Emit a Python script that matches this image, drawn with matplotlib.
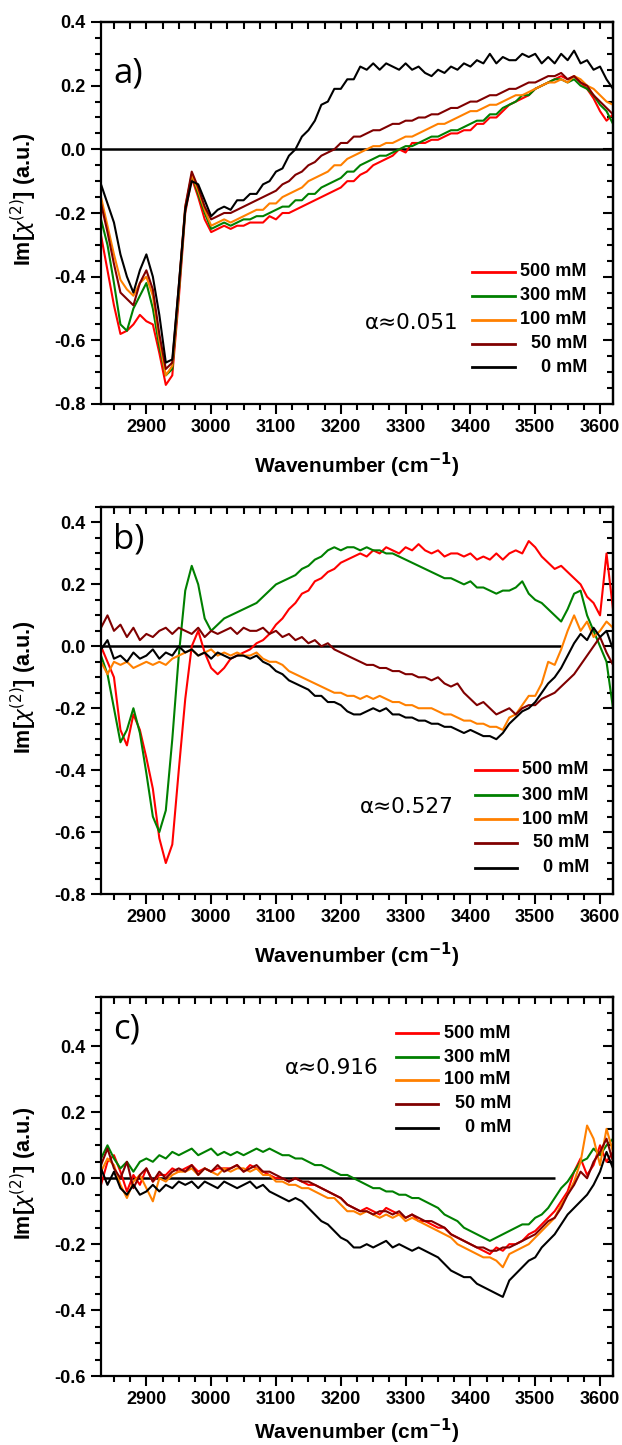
import numpy as np
import matplotlib
matplotlib.use("Agg")
import matplotlib.pyplot as plt
from matplotlib.lines import Line2D
from matplotlib.ticker import MultipleLocator, FormatStrFormatter, NullFormatter

plt.rcParams["axes.unicode_minus"] = False

# ---------------- data ----------------
wavenumber = np.arange(2830, 3621, 10)

labels = ["500 mM", "300 mM", "100 mM", "50 mM", "0 mM"]
colors = ["#ff0000", "#008000", "#ff8000", "#800000", "#000000"]

# panel a (alpha ~ 0.051)
a_500 = [-0.27, -0.38, -0.49, -0.58, -0.57, -0.55, -0.52, -0.54, -0.55, -0.64,
         -0.74, -0.71, -0.47, -0.20, -0.09, -0.15, -0.22, -0.26, -0.25, -0.24,
         -0.25, -0.24, -0.24, -0.23, -0.23, -0.23, -0.21, -0.22, -0.20, -0.20,
         -0.19, -0.18, -0.17, -0.16, -0.15, -0.14, -0.13, -0.12, -0.10, -0.10,
         -0.08, -0.07, -0.05, -0.04, -0.03, -0.02, 0.00, -0.01, 0.02, 0.02,
         0.02, 0.03, 0.03, 0.04, 0.05, 0.05, 0.06, 0.06, 0.08, 0.08,
         0.10, 0.10, 0.12, 0.14, 0.15, 0.16, 0.17, 0.19, 0.20, 0.21,
         0.22, 0.23, 0.22, 0.23, 0.21, 0.19, 0.16, 0.12, 0.09, 0.11]
a_300 = [-0.22, -0.30, -0.42, -0.55, -0.57, -0.50, -0.46, -0.42, -0.50, -0.62,
         -0.71, -0.69, -0.45, -0.19, -0.08, -0.14, -0.20, -0.25, -0.24, -0.23,
         -0.24, -0.23, -0.22, -0.22, -0.21, -0.21, -0.20, -0.19, -0.18, -0.18,
         -0.16, -0.16, -0.14, -0.14, -0.12, -0.11, -0.10, -0.09, -0.07, -0.07,
         -0.05, -0.04, -0.03, -0.02, -0.02, -0.01, 0.00, 0.01, 0.01, 0.02,
         0.03, 0.04, 0.04, 0.05, 0.06, 0.06, 0.07, 0.08, 0.09, 0.09,
         0.11, 0.11, 0.13, 0.14, 0.15, 0.17, 0.17, 0.19, 0.20, 0.21,
         0.22, 0.22, 0.21, 0.22, 0.20, 0.19, 0.17, 0.14, 0.12, 0.08]
a_100 = [-0.15, -0.24, -0.33, -0.41, -0.44, -0.46, -0.42, -0.40, -0.46, -0.60,
         -0.71, -0.68, -0.44, -0.18, -0.08, -0.13, -0.19, -0.24, -0.23, -0.22,
         -0.23, -0.22, -0.21, -0.20, -0.19, -0.19, -0.17, -0.17, -0.15, -0.14,
         -0.13, -0.12, -0.10, -0.09, -0.08, -0.07, -0.05, -0.05, -0.03, -0.02,
         -0.01, 0.00, 0.01, 0.01, 0.02, 0.02, 0.03, 0.04, 0.04, 0.05,
         0.06, 0.07, 0.08, 0.08, 0.09, 0.10, 0.11, 0.12, 0.12, 0.13,
         0.14, 0.14, 0.15, 0.16, 0.17, 0.17, 0.18, 0.19, 0.20, 0.21,
         0.21, 0.22, 0.21, 0.23, 0.22, 0.20, 0.19, 0.17, 0.15, 0.14]
a_50 = [-0.17, -0.26, -0.36, -0.45, -0.47, -0.49, -0.42, -0.38, -0.44, -0.58,
        -0.69, -0.67, -0.43, -0.18, -0.07, -0.12, -0.18, -0.22, -0.21, -0.20,
        -0.20, -0.19, -0.18, -0.17, -0.16, -0.15, -0.14, -0.13, -0.11, -0.10,
        -0.08, -0.07, -0.05, -0.04, -0.02, -0.01, 0.00, 0.02, 0.02, 0.04,
        0.04, 0.05, 0.06, 0.06, 0.07, 0.08, 0.08, 0.09, 0.09, 0.10,
        0.10, 0.11, 0.11, 0.12, 0.13, 0.13, 0.14, 0.15, 0.15, 0.16,
        0.17, 0.17, 0.18, 0.19, 0.19, 0.20, 0.21, 0.21, 0.22, 0.23,
        0.23, 0.24, 0.22, 0.23, 0.21, 0.20, 0.17, 0.15, 0.13, 0.11]
a_0 = [-0.11, -0.17, -0.23, -0.33, -0.40, -0.45, -0.38, -0.33, -0.40, -0.52,
       -0.67, -0.66, -0.43, -0.19, -0.10, -0.11, -0.16, -0.21, -0.19, -0.18,
       -0.19, -0.16, -0.16, -0.14, -0.14, -0.11, -0.10, -0.07, -0.06, -0.02,
       0.00, 0.04, 0.06, 0.09, 0.14, 0.15, 0.19, 0.19, 0.22, 0.22,
       0.26, 0.25, 0.27, 0.25, 0.27, 0.26, 0.25, 0.27, 0.25, 0.26,
       0.24, 0.23, 0.25, 0.24, 0.26, 0.25, 0.27, 0.26, 0.28, 0.27,
       0.30, 0.27, 0.29, 0.28, 0.28, 0.30, 0.29, 0.30, 0.27, 0.29,
       0.27, 0.30, 0.28, 0.31, 0.27, 0.28, 0.25, 0.26, 0.22, 0.19]

# panel b (alpha ~ 0.527)
b_500 = [0.00, -0.05, -0.10, -0.27, -0.32, -0.22, -0.27, -0.36, -0.46, -0.62,
         -0.70, -0.64, -0.40, -0.17, 0.00, 0.05, -0.02, -0.07, -0.09, -0.07,
         -0.04, -0.03, -0.02, -0.01, 0.01, 0.02, 0.04, 0.07, 0.09, 0.12,
         0.14, 0.17, 0.18, 0.21, 0.22, 0.24, 0.25, 0.27, 0.28, 0.29,
         0.30, 0.29, 0.31, 0.30, 0.32, 0.31, 0.30, 0.32, 0.31, 0.33,
         0.31, 0.30, 0.31, 0.29, 0.30, 0.30, 0.29, 0.30, 0.28, 0.29,
         0.28, 0.30, 0.28, 0.30, 0.31, 0.30, 0.34, 0.32, 0.29, 0.27,
         0.25, 0.26, 0.24, 0.22, 0.20, 0.16, 0.14, 0.10, 0.30, 0.12]
b_300 = [-0.03, -0.09, -0.20, -0.31, -0.27, -0.20, -0.28, -0.41, -0.55, -0.60,
         -0.53, -0.30, -0.03, 0.18, 0.26, 0.20, 0.09, 0.05, 0.07, 0.09,
         0.10, 0.11, 0.12, 0.13, 0.14, 0.16, 0.18, 0.20, 0.21, 0.22,
         0.23, 0.25, 0.26, 0.28, 0.29, 0.31, 0.32, 0.31, 0.32, 0.32,
         0.31, 0.32, 0.31, 0.31, 0.30, 0.30, 0.29, 0.28, 0.27, 0.26,
         0.25, 0.24, 0.23, 0.22, 0.22, 0.21, 0.20, 0.21, 0.19, 0.19,
         0.18, 0.17, 0.18, 0.18, 0.19, 0.21, 0.17, 0.15, 0.14, 0.12,
         0.10, 0.08, 0.12, 0.17, 0.18, 0.10, 0.05, 0.00, -0.05, -0.20]
b_100 = [-0.05, -0.09, -0.05, -0.06, -0.05, -0.07, -0.06, -0.05, -0.06, -0.05,
         -0.06, -0.04, -0.03, -0.02, -0.01, -0.03, -0.02, -0.01, -0.03, -0.02,
         -0.03, -0.02, -0.03, -0.03, -0.02, -0.04, -0.05, -0.05, -0.06, -0.08,
         -0.09, -0.10, -0.11, -0.12, -0.13, -0.14, -0.15, -0.15, -0.16, -0.16,
         -0.17, -0.16, -0.17, -0.16, -0.17, -0.18, -0.18, -0.19, -0.19, -0.20,
         -0.20, -0.20, -0.21, -0.22, -0.22, -0.23, -0.24, -0.24, -0.25, -0.25,
         -0.26, -0.26, -0.27, -0.23, -0.22, -0.19, -0.16, -0.16, -0.12, -0.05,
         -0.06, -0.01, 0.05, 0.10, 0.05, 0.08, 0.03, 0.05, 0.08, 0.06]
b_50 = [0.06, 0.10, 0.05, 0.07, 0.03, 0.06, 0.02, 0.04, 0.03, 0.05,
        0.06, 0.04, 0.06, 0.05, 0.04, 0.06, 0.03, 0.05, 0.04, 0.05,
        0.06, 0.04, 0.06, 0.05, 0.05, 0.06, 0.04, 0.05, 0.03, 0.04,
        0.02, 0.03, 0.01, 0.02, 0.00, 0.01, -0.01, -0.02, -0.03, -0.04,
        -0.05, -0.06, -0.06, -0.07, -0.07, -0.08, -0.08, -0.09, -0.09, -0.10,
        -0.10, -0.11, -0.10, -0.12, -0.13, -0.12, -0.15, -0.17, -0.19, -0.18,
        -0.20, -0.22, -0.21, -0.20, -0.22, -0.20, -0.19, -0.19, -0.17, -0.16,
        -0.15, -0.13, -0.11, -0.09, -0.06, -0.03, 0.00, 0.03, -0.02, -0.06]
b_0 = [-0.01, 0.02, -0.04, -0.03, -0.05, -0.02, -0.04, -0.03, -0.01, -0.04,
       -0.02, -0.03, 0.00, -0.02, -0.01, -0.03, -0.02, -0.04, -0.02, -0.03,
       -0.04, -0.03, -0.03, -0.04, -0.03, -0.05, -0.06, -0.08, -0.09, -0.11,
       -0.12, -0.13, -0.14, -0.16, -0.16, -0.18, -0.18, -0.19, -0.21, -0.22,
       -0.22, -0.21, -0.20, -0.21, -0.20, -0.22, -0.22, -0.23, -0.23, -0.24,
       -0.24, -0.25, -0.25, -0.26, -0.26, -0.27, -0.28, -0.27, -0.28, -0.29,
       -0.29, -0.30, -0.28, -0.25, -0.23, -0.21, -0.20, -0.18, -0.15, -0.12,
       -0.10, -0.07, -0.03, 0.01, 0.04, 0.02, 0.06, 0.03, 0.05, -0.01]

# panel c (alpha ~ 0.916)
c_500 = [-0.02, 0.05, 0.07, 0.02, -0.04, 0.01, -0.02, 0.03, -0.01, 0.01,
         0.01, 0.03, 0.02, 0.03, 0.04, 0.02, 0.03, 0.02, 0.03, 0.03,
         0.03, 0.04, 0.02, 0.04, 0.03, 0.02, 0.01, 0.00, 0.00, -0.01,
         0.00, -0.01, -0.02, -0.02, -0.03, -0.04, -0.05, -0.06, -0.08, -0.09,
         -0.10, -0.09, -0.10, -0.11, -0.09, -0.10, -0.11, -0.12, -0.11, -0.13,
         -0.13, -0.14, -0.15, -0.15, -0.17, -0.18, -0.19, -0.20, -0.21, -0.22,
         -0.23, -0.21, -0.22, -0.20, -0.20, -0.19, -0.17, -0.16, -0.14, -0.12,
         -0.10, -0.07, -0.04, 0.02, 0.06, 0.01, 0.04, 0.10, 0.05, 0.08]
c_300 = [0.06, 0.10, 0.06, 0.03, 0.05, 0.02, 0.05, 0.06, 0.05, 0.07,
         0.06, 0.08, 0.07, 0.08, 0.09, 0.07, 0.08, 0.09, 0.07, 0.08,
         0.07, 0.08, 0.07, 0.08, 0.09, 0.08, 0.09, 0.08, 0.07, 0.07,
         0.06, 0.06, 0.05, 0.04, 0.04, 0.03, 0.02, 0.01, 0.01, 0.00,
         -0.01, -0.02, -0.03, -0.03, -0.04, -0.04, -0.05, -0.05, -0.06, -0.06,
         -0.07, -0.08, -0.09, -0.11, -0.12, -0.13, -0.15, -0.16, -0.17, -0.18,
         -0.19, -0.18, -0.17, -0.16, -0.15, -0.14, -0.14, -0.12, -0.11, -0.09,
         -0.06, -0.03, -0.01, 0.02, 0.05, 0.06, 0.09, 0.07, 0.10, 0.12]
c_100 = [0.02, 0.06, 0.04, -0.02, -0.06, -0.01, 0.01, -0.03, -0.07, 0.00,
         -0.01, 0.01, 0.02, 0.02, 0.03, 0.01, 0.03, 0.02, 0.01, 0.03,
         0.02, 0.03, 0.03, 0.02, 0.03, 0.01, 0.01, -0.01, -0.01, -0.02,
         -0.02, -0.03, -0.03, -0.04, -0.05, -0.06, -0.06, -0.08, -0.10, -0.10,
         -0.11, -0.10, -0.11, -0.12, -0.11, -0.12, -0.11, -0.13, -0.12, -0.13,
         -0.14, -0.15, -0.16, -0.17, -0.18, -0.20, -0.21, -0.22, -0.23, -0.24,
         -0.24, -0.25, -0.27, -0.23, -0.22, -0.21, -0.20, -0.18, -0.16, -0.14,
         -0.12, -0.08, -0.05, -0.01, 0.05, 0.16, 0.12, 0.04, 0.15, 0.08]
c_50 = [0.04, 0.09, 0.03, 0.00, 0.05, -0.03, 0.01, 0.03, -0.01, 0.02,
        0.00, 0.02, 0.03, 0.02, 0.04, 0.01, 0.03, 0.02, 0.04, 0.02,
        0.03, 0.04, 0.02, 0.03, 0.04, 0.02, 0.02, 0.01, 0.00, -0.01,
        0.00, -0.01, -0.01, -0.02, -0.03, -0.04, -0.05, -0.06, -0.08, -0.09,
        -0.10, -0.10, -0.11, -0.10, -0.10, -0.11, -0.10, -0.12, -0.11, -0.12,
        -0.13, -0.13, -0.14, -0.15, -0.17, -0.18, -0.19, -0.20, -0.21, -0.21,
        -0.22, -0.22, -0.21, -0.21, -0.20, -0.19, -0.18, -0.17, -0.15, -0.13,
        -0.12, -0.09, -0.05, -0.02, 0.02, 0.00, 0.05, 0.08, 0.12, 0.05]
c_0 = [0.03, -0.02, 0.02, -0.03, -0.05, -0.02, -0.05, -0.04, -0.02, -0.04,
       -0.02, -0.03, -0.01, -0.02, -0.01, -0.03, -0.01, -0.02, -0.03, -0.01,
       -0.02, -0.03, -0.02, -0.01, -0.03, -0.02, -0.04, -0.05, -0.06, -0.07,
       -0.06, -0.07, -0.09, -0.11, -0.13, -0.14, -0.16, -0.18, -0.19, -0.21,
       -0.21, -0.20, -0.21, -0.20, -0.19, -0.21, -0.20, -0.21, -0.22, -0.21,
       -0.22, -0.23, -0.24, -0.26, -0.28, -0.29, -0.30, -0.30, -0.32, -0.33,
       -0.34, -0.35, -0.36, -0.31, -0.29, -0.27, -0.25, -0.24, -0.21, -0.19,
       -0.17, -0.14, -0.11, -0.09, -0.07, -0.05, -0.02, 0.02, 0.08, 0.03]

panel_series = [[a_500, a_300, a_100, a_50, a_0],
                [b_500, b_300, b_100, b_50, b_0],
                [c_500, c_300, c_100, c_50, c_0]]
panel_tags = ["a)", "b)", "c)"]
alpha_texts = ["\u03b1\u22480.051", "\u03b1\u22480.527", "\u03b1\u22480.916"]
y_limits = [(-0.8, 0.4), (-0.8, 0.45), (-0.6, 0.55)]
zero_line_end = [3620, 3540, 3530]

# ---------------- layout (pixels) ----------------
W, H = 622, 1445
fig = plt.figure(figsize=(W / 100, H / 100), dpi=100)


def fx(px):
    return px / W


def fy(py):
    return 1 - py / H


ax_left, ax_right = 101, 613
ax_boxes = [(22, 404), (507, 894), (997, 1376)]
xlabel_gap = [47, 47, 41]
legend_line_x = [(472, 515), (475, 517), (396, 438)]
legend_text_x = [587, 589, 511]
legend_rows = [[272, 296, 320, 344, 367],
               [770, 795, 819, 843, 868],
               [1033, 1057, 1080, 1104, 1128]]
alpha_pos = [(458, 323), (454, 807), (379, 1068)]
tag_pos = [(113, 73), (113, 540), (113, 1030)]

bold_font = "Liberation Sans"

for i in range(3):
    top, bot = ax_boxes[i]
    ax = fig.add_axes([fx(ax_left), fy(bot), (ax_right - ax_left) / W, (bot - top) / H])
    for s, c in zip(panel_series[i], colors):
        ax.plot(wavenumber, s, color=c, lw=1.5)
    ax.hlines(0, 2830, zero_line_end[i], color="black", lw=1.8, zorder=1)
    ax.set_xlim(2830, 3620)
    ax.set_ylim(*y_limits[i])

    ax.xaxis.set_major_locator(MultipleLocator(100))
    ax.xaxis.set_minor_locator(MultipleLocator(25))
    ax.yaxis.set_major_locator(MultipleLocator(0.2))
    ax.yaxis.set_minor_locator(MultipleLocator(0.05))
    ax.yaxis.set_major_formatter(FormatStrFormatter("%.1f"))
    ax.tick_params(which="major", direction="out", length=7, width=1.5, pad=4)
    ax.tick_params(which="minor", direction="out", length=4, width=1.5)
    for lab in ax.get_xticklabels() + ax.get_yticklabels():
        lab.set_fontfamily(bold_font)
        lab.set_fontweight("bold")
        lab.set_fontsize(13)
    for sp in ax.spines.values():
        sp.set_linewidth(1.6)

    top_ax = ax.secondary_xaxis("top")
    top_ax.xaxis.set_major_locator(MultipleLocator(100))
    top_ax.xaxis.set_minor_locator(MultipleLocator(25))
    top_ax.xaxis.set_major_formatter(NullFormatter())
    top_ax.tick_params(which="both", direction="in", length=5, width=1.5)
    top_ax.spines["top"].set_linewidth(1.6)
    right_ax = ax.secondary_yaxis("right")
    right_ax.yaxis.set_major_locator(MultipleLocator(0.2))
    right_ax.yaxis.set_minor_locator(MultipleLocator(0.05))
    right_ax.yaxis.set_major_formatter(NullFormatter())
    right_ax.tick_params(which="major", direction="in", length=7, width=1.5)
    right_ax.tick_params(which="minor", direction="in", length=4, width=1.5)
    right_ax.spines["right"].set_linewidth(1.6)

    ax.set_xlabel("Wavenumber (cm$^{\\mathbf{-1}}$)", fontfamily=bold_font,
                  fontweight="bold", fontsize=15)
    ax.xaxis.set_label_coords(0.5, -xlabel_gap[i] / (bot - top))
    ax.set_ylabel("Im[$\\chi^{(2)}$] (a.u.)", fontfamily=bold_font,
                  fontweight="bold", fontsize=15.5)
    ax.yaxis.set_label_coords(-(ax_left - 39) / (ax_right - ax_left), 0.535)

    # legend drawn manually (text right-aligned as in the reference)
    x0, x1 = legend_line_x[i]
    for lab, c, yy in zip(labels, colors, legend_rows[i]):
        fig.add_artist(Line2D([fx(x0), fx(x1)], [fy(yy), fy(yy)], color=c, lw=2))
        fig.text(fx(legend_text_x[i]), fy(yy), lab, ha="right", va="center",
                 fontfamily=bold_font, fontweight="bold", fontsize=13)

    ax_x, ax_y = alpha_pos[i]
    fig.text(fx(ax_x), fy(ax_y), alpha_texts[i], ha="right", va="center",
             fontfamily="DejaVu Sans", fontsize=15.5)
    tx, ty = tag_pos[i]
    fig.text(fx(tx), fy(ty), panel_tags[i], ha="left", va="center",
             fontfamily=["Open Sans", "DejaVu Sans"], fontsize=25)

fig.savefig("out.png", dpi=100)
